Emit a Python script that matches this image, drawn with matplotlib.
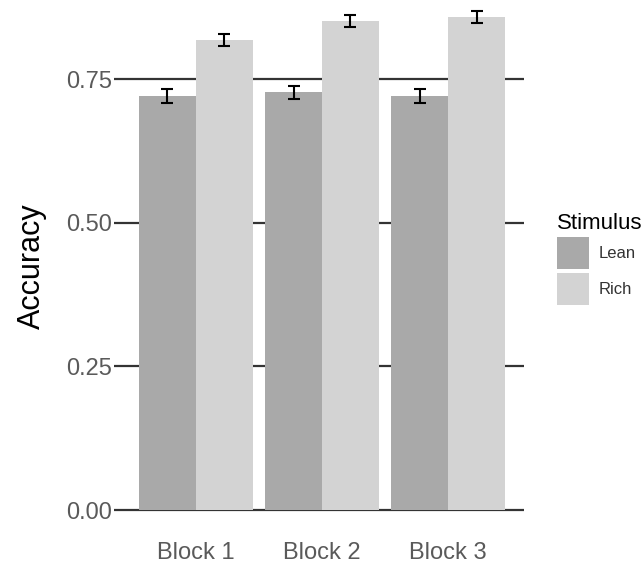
import numpy as np
import matplotlib.pyplot as plt

plt.rcParams["font.family"] = ["Liberation Sans", "DejaVu Sans"]

# 値は図から読み取った推定値
blocks = ["Block 1", "Block 2", "Block 3"]
stimulus = ["Lean", "Rich"]
lean_acc = [0.720, 0.727, 0.720]
rich_acc = [0.818, 0.851, 0.858]
lean_err = [0.012, 0.011, 0.012]
rich_err = [0.011, 0.011, 0.011]
y_ticks = [0.00, 0.25, 0.50, 0.75]

lean_color = "#a9a9a9"
rich_color = "#d3d3d3"
grid_color = "#333333"
text_grey = "#5a5a5a"

fig = plt.figure(figsize=(6.44, 5.69), dpi=100)
ax = fig.add_axes([120 / 644, 34 / 569, 404 / 644, 535 / 569])

x = np.arange(1, len(blocks) + 1)
w = 0.45
ax.bar(x - w / 2, lean_acc, width=w, color=lean_color, label=stimulus[0], zorder=2)
ax.bar(x + w / 2, rich_acc, width=w, color=rich_color, label=stimulus[1], zorder=2)
ax.errorbar(x - w / 2, lean_acc, yerr=lean_err, fmt="none", ecolor="black",
            elinewidth=1.5, capsize=4.3, capthick=1.5, zorder=3)
ax.errorbar(x + w / 2, rich_acc, yerr=rich_err, fmt="none", ecolor="black",
            elinewidth=1.5, capsize=4.3, capthick=1.5, zorder=3)

ax.set_xlim(0.4, 3.6)
ax.set_ylim(-0.0435, 0.8875)
ax.set_yticks(y_ticks)
ax.set_yticklabels([f"{t:.2f}" for t in y_ticks])
ax.set_xticks(x)
ax.set_xticklabels(blocks)

for spine in ax.spines.values():
    spine.set_visible(False)
ax.yaxis.grid(True, color=grid_color, linewidth=1.6, zorder=0)
ax.set_axisbelow(True)
ax.tick_params(axis="y", length=4, width=1.6, color=grid_color, pad=2,
               labelsize=17, labelcolor=text_grey)
ax.tick_params(axis="x", length=0, pad=5, labelsize=17, labelcolor=text_grey)

ax.set_ylabel("Accuracy", fontsize=22, color="black")
ax.yaxis.set_label_coords((47 - 120) / 404, (569 - 266 - 34) / 535)

leg = ax.legend(title="Stimulus", loc="upper left",
                bbox_to_anchor=(557 / 644, 1 - 213 / 569),
                bbox_transform=fig.transFigure, frameon=False,
                fontsize=12, title_fontsize=16, handlelength=1.9,
                handleheight=2.57, labelspacing=0.2, handletextpad=0.6,
                borderpad=0, borderaxespad=0)
leg._legend_box.align = "left"
for t in leg.get_texts():
    t.set_color("#333333")

fig.savefig("out.png", dpi=100)
